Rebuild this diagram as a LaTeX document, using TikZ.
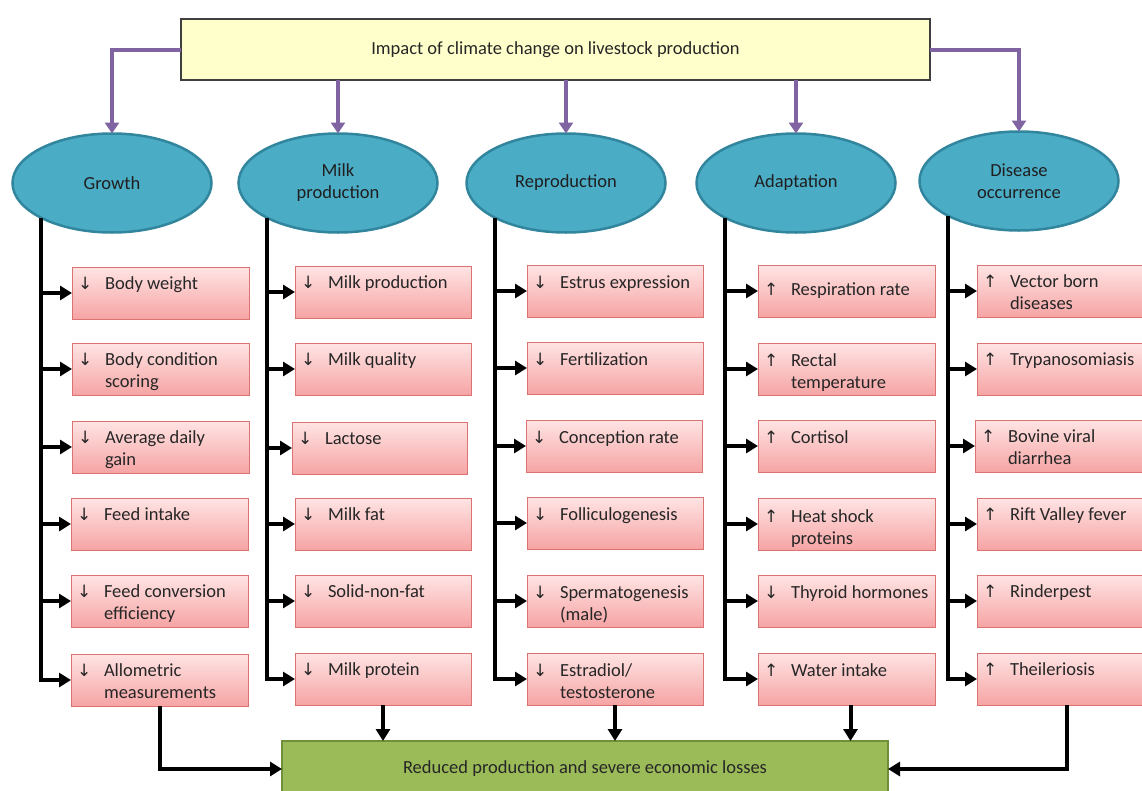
\documentclass[tikz,border=0pt]{standalone}
\usepackage{fontspec}
\setmainfont{Carlito}
\newfontfamily\symfont{DejaVu Sans}
\usetikzlibrary{arrows.meta,shapes.geometric,calc}
\definecolor{topfill}{HTML}{FFFFCC}
\definecolor{topdraw}{HTML}{3F3F3F}
\definecolor{ellfill}{HTML}{4BACC6}
\definecolor{elldraw}{HTML}{31859C}
\definecolor{pinktop}{HTML}{FFE4E4}
\definecolor{pinkbot}{HTML}{F6A4A4}
\definecolor{pinkdraw}{HTML}{DB7373}
\definecolor{resfill}{HTML}{9BBB59}
\definecolor{resdraw}{HTML}{6F8F3A}
\definecolor{purp}{HTML}{8064A2}
\definecolor{txt}{HTML}{262626}
\tikzset{
  mainfont/.style={font=\fontsize{18.5}{22}\selectfont, text=txt},
  topbox/.style={rectangle, draw=topdraw, fill=topfill, line width=1.3pt, minimum width=749pt, minimum height=61pt, outer sep=0pt, mainfont},
  ell/.style={ellipse, draw=elldraw, fill=ellfill, line width=2.5pt, minimum width=199pt, minimum height=99pt, inner sep=0pt, outer sep=0pt, align=center, mainfont, text=black!88},
  itembox/.style={rectangle, draw=pinkdraw, top color=pinktop, bottom color=pinkbot, line width=1pt, minimum height=52pt, inner sep=0pt, outer sep=0pt},
  itemtext/.style={inner sep=0pt, outer sep=0pt, mainfont},
  resbox/.style={rectangle, draw=resdraw, fill=resfill, line width=2pt, minimum width=606pt, minimum height=56pt, outer sep=0pt, mainfont},
  blk/.style={line width=4pt, draw=black, -{Triangle[length=12pt,width=14pt]}},
  parr/.style={line width=4pt, draw=purp, -{Triangle[length=11pt,width=14pt]}},
}
\newcommand\ibox[8]{%
  \node[itembox, minimum width=#4pt, anchor=north west] (#1) at (#2,#3) {};
  \node[itemtext, anchor=base west] (#1a) at ([shift={(6,#8)}]#1.north west) {{\symfont\fontsize{17}{17}\selectfont #5}};
  \node[itemtext, anchor=base west] (#1t) at ([shift={(33,#8)}]#1.north west) {\begin{tabular}[t]{@{}l@{}}#6\\#7\end{tabular}};
}
\begin{document}
\begin{tikzpicture}[x=1pt,y=-1pt]
\useasboundingbox (0,0) rectangle (1142,790);
% top
\node[topbox, anchor=north west] (top) at (181,19) {Impact of climate change on livestock production};
% ellipses
\node[ell] (g) at (112,183) {Growth};
\node[ell] (m) at (338,183) {Milk\\production};
\node[ell] (r) at (566,183) {Reproduction};
\node[ell] (a) at (796,183) {Adaptation};
\node[ell] (d) at (1019,181) {Disease\\occurrence};
% purple arrows
\draw[parr] (top.west) -| (g.north);
\draw[parr] (top.south -| m.north) -- (m.north);
\draw[parr] (top.south -| r.north) -- (r.north);
\draw[parr] (top.south -| a.north) -- (a.north);
\draw[parr] (top.east) -| (d.north);
% column 1
\ibox{b11}{72}{267}{177}{↓}{Body weight}{}{22}
\ibox{b12}{72}{343}{177}{↓}{Body condition}{scoring}{22}
\ibox{b13}{72}{421}{177}{↓}{Average daily}{gain}{22}
\ibox{b14}{71}{498}{177}{↓}{Feed intake}{}{22}
\ibox{b15}{71}{575}{177}{↓}{Feed conversion}{efficiency}{22}
\ibox{b16}{71}{654}{177}{↓}{Allometric}{measurements}{22}
% column 2
\ibox{b21}{295}{266}{176}{↓}{Milk production}{}{22}
\ibox{b22}{295}{343}{176}{↓}{Milk quality}{}{22}
\ibox{b23}{292}{422}{175}{↓}{Lactose}{}{22}
\ibox{b24}{295}{498}{176}{↓}{Milk fat}{}{22}
\ibox{b25}{295}{575}{176}{↓}{Solid-non-fat}{}{22}
\ibox{b26}{295}{653}{176}{↓}{Milk protein}{}{22}
% column 3
\ibox{b31}{527}{265}{176}{↓}{Estrus expression}{}{23}
\ibox{b32}{527}{342}{176}{↓}{Fertilization}{}{23}
\ibox{b33}{526}{420}{176}{↓}{Conception rate}{}{23}
\ibox{b34}{527}{497}{176}{↓}{Folliculogenesis}{}{23}
\ibox{b35}{527}{575}{176}{↓}{Spermatogenesis}{(male)}{23}
\ibox{b36}{527}{653}{176}{↓}{Estradiol/}{testosterone}{23}
% column 4
\ibox{b41}{758}{265}{177}{↑}{Respiration rate}{}{30}
\ibox{b42}{758}{343}{177}{↑}{Rectal}{temperature}{23}
\ibox{b43}{758}{420}{177}{↑}{Cortisol}{}{23}
\ibox{b44}{758}{498}{177}{↑}{Heat shock}{proteins}{24}
\ibox{b45}{758}{575}{177}{↓}{Thyroid hormones}{}{23}
\ibox{b46}{758}{653}{177}{↑}{Water intake}{}{23}
% column 5
\ibox{b51}{977}{265}{180}{↑}{Vector born}{diseases}{22}
\ibox{b52}{977}{343}{180}{↑}{Trypanosomiasis}{}{22}
\ibox{b53}{975}{420}{180}{↑}{Bovine viral}{diarrhea}{22}
\ibox{b54}{977}{498}{180}{↑}{Rift Valley fever}{}{22}
\ibox{b55}{977}{575}{180}{↑}{Rinderpest}{}{22}
\ibox{b56}{977}{653}{180}{↑}{Theileriosis}{}{22}
% trunks and branches
\draw[blk] (g.206.57) |- (b16.west);
\draw[blk] (m.206.57) |- (b26.west);
\draw[blk] (r.206.57) |- (b36.west);
\draw[blk] (a.206.57) |- (b46.west);
\draw[blk] (d.206.57) |- (b56.west);
\foreach \i in {1,...,5} {
  \draw[blk] (b1\i.west -| g.206.57) -- (b1\i.west);
  \draw[blk] (b2\i.west -| m.206.57) -- (b2\i.west);
  \draw[blk] (b3\i.west -| r.206.57) -- (b3\i.west);
  \draw[blk] (b4\i.west -| a.206.57) -- (b4\i.west);
  \draw[blk] (b5\i.west -| d.206.57) -- (b5\i.west);
}
% result
\node[resbox, anchor=north west] (res) at (282,741) {Reduced production and severe economic losses};
\draw[blk] (b16.south) |- (res.west);
\draw[blk] (b26.south) -- (b26.south |- res.north);
\draw[blk] (b36.south) -- (b36.south |- res.north);
\draw[blk] ([xshift=4pt]b46.south) -- ([xshift=4pt]b46.south |- res.north);
\draw[blk] (b56.south) |- (res.east);
\end{tikzpicture}
\end{document}
